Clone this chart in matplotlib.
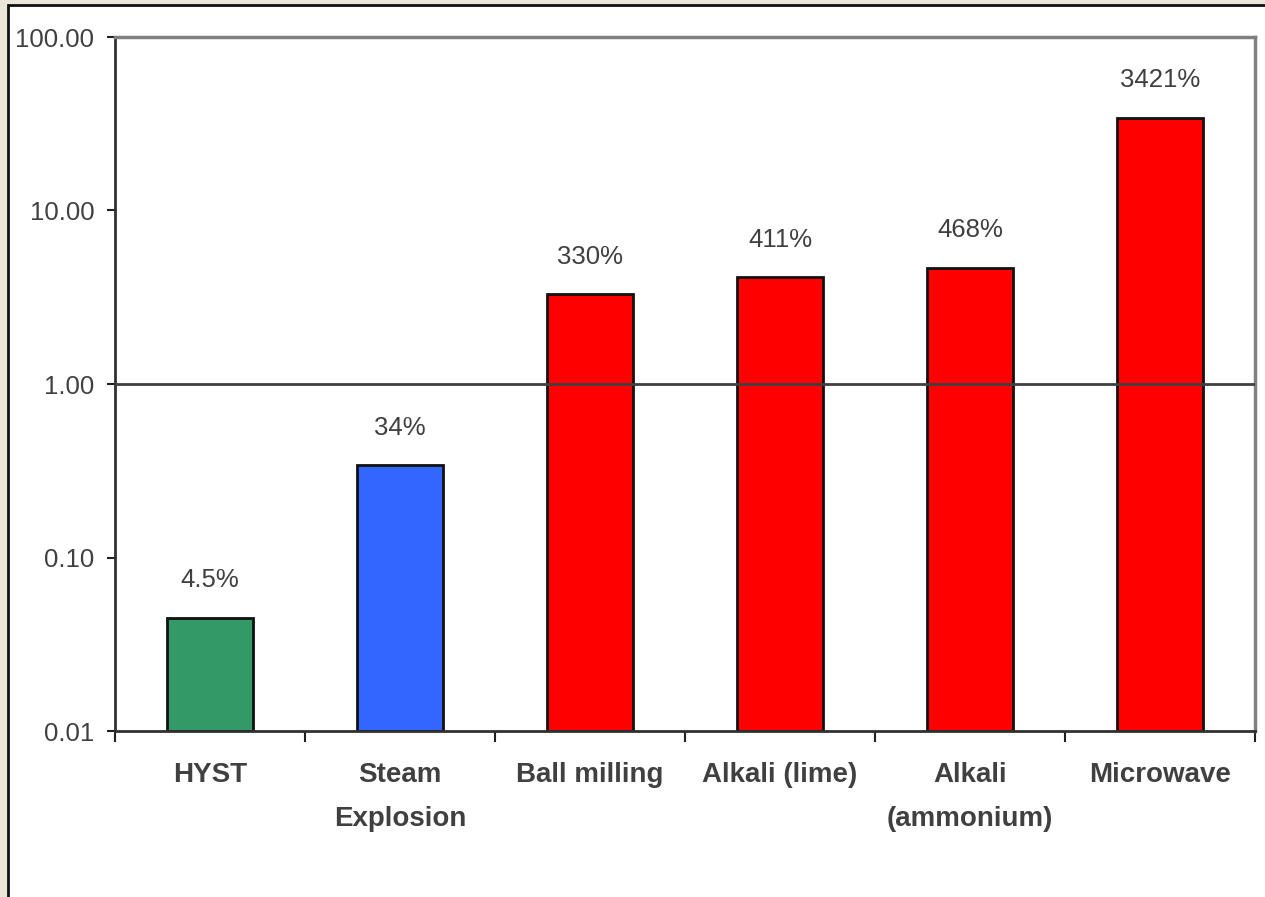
import numpy as np
import matplotlib.pyplot as plt
from matplotlib.patches import Rectangle

# --- Data ---
categories = ['HYST', 'Steam\nExplosion', 'Ball milling', 'Alkali (lime)',
              'Alkali\n(ammonium)', 'Microwave']
values = [0.045, 0.34, 3.30, 4.11, 4.68, 34.21]
value_labels = ['4.5%', '34%', '330%', '411%', '468%', '3421%']
bar_colors = ['#339966', '#3366ff', '#ff0000', '#ff0000', '#ff0000', '#ff0000']
y_ticks = [0.01, 0.1, 1, 10, 100]
y_tick_labels = ['0.01', '0.10', '1.00', '10.00', '100.00']

TEXT_COLOR = '#404040'
plt.rcParams['font.family'] = ['Liberation Sans', 'DejaVu Sans']

fig = plt.figure(figsize=(12.65, 8.97), dpi=100)
fig.patch.set_facecolor('#ece6da')

# white chart panel with dark border on left and top
W, H = 1265, 897
fig.add_artist(Rectangle((8 / W, -0.1), 1.2, (H - 5) / H + 0.1,
                         transform=fig.transFigure, facecolor='white',
                         edgecolor='#111111', linewidth=2, zorder=0))

ax = fig.add_axes([115 / W, 1 - 731 / H, (1255 - 115) / W, (731 - 37) / H])
ax.set_facecolor('white')

x = np.arange(len(categories))
ax.bar(x, values, width=0.45, color=bar_colors, edgecolor='#111111',
       linewidth=2, zorder=2)
# bars start at the bottom of the log axis
for rect, v in zip(ax.patches, values):
    rect.set_y(0.01)
    rect.set_height(v - 0.01)

ax.set_yscale('log')
ax.set_ylim(0.01, 100)
ax.set_xlim(-0.5, len(categories) - 0.5)

ax.axhline(1, color='#404040', linewidth=2, zorder=3)

for xi, v, lab in zip(x, values, value_labels):
    ax.annotate(lab, (xi, v), xytext=(0, 27), textcoords='offset points',
                ha='center', va='center', fontsize=18.5, color=TEXT_COLOR)

ax.set_yticks(y_ticks)
ax.set_yticklabels(y_tick_labels)
ax.yaxis.set_minor_locator(plt.NullLocator())
ax.tick_params(axis='y', direction='out', length=6, width=1.5,
               color='#202020', labelsize=18.5, labelcolor=TEXT_COLOR, pad=9)

# category labels centred between boundary ticks
ax.set_xticks(np.arange(len(categories) + 1) - 0.5)
ax.set_xticklabels([])
ax.tick_params(axis='x', direction='out', length=8, width=1.5, color='#202020')
for xi, cat in zip(x, categories):
    ax.text(xi, -0.044, cat, transform=ax.get_xaxis_transform(),
            ha='center', va='top', fontsize=20, fontweight='bold',
            color=TEXT_COLOR, linespacing=1.92)

for side in ['top', 'right']:
    ax.spines[side].set_color('#808080')
    ax.spines[side].set_linewidth(2.5)
for side in ['left', 'bottom']:
    ax.spines[side].set_color('#303030')
    ax.spines[side].set_linewidth(2)

fig.savefig('out.png', dpi=100)
